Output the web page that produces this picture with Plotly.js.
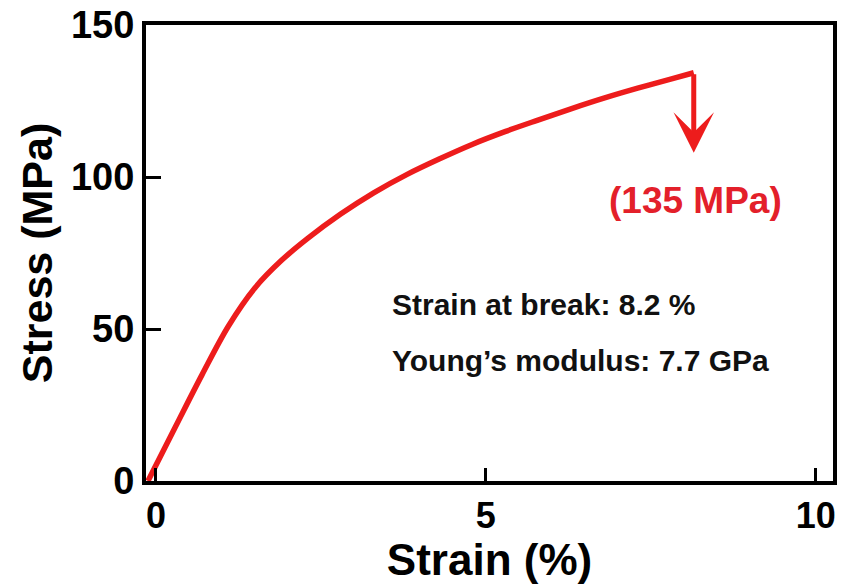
<!DOCTYPE html>
<html>
<head>
<meta charset="utf-8">
<script src="https://cdn.plot.ly/plotly-3.0.1.min.js"></script>
<style>html,body{margin:0;padding:0;background:#fff;} #chart{width:850px;height:584px;}</style>
</head>
<body>
<div id="chart"></div>
<script>
// Stress-strain curve
const strain = [-0.12, 0.3, 0.7, 1.1, 1.5, 1.9, 2.3, 2.8, 3.3, 3.8, 4.3, 4.8, 5.3, 5.8, 6.3, 6.8, 7.3, 7.8, 8.15];
const stress = [0, 18, 35, 51, 63.5, 72.5, 79.8, 87.8, 94.8, 100.8, 106, 110.8, 115, 118.8, 122.5, 126, 129.2, 132.2, 134.3];
const breakStrain = 8.15;
const breakStress = 134.3;
const arrowTipStress = 108;
const breakLabel = "(135 MPa)";
const infoLines = ["Strain at break: 8.2 %", "Young\u2019s modulus: 7.7 GPa"];
const xTicks = [0, 5, 10];
const yTicks = [0, 50, 100, 150];

const RED = "#ed1c1c";
const FONT = "Liberation Sans, Arial, Helvetica, sans-serif";

const trace = {
  x: strain, y: stress, type: "scatter", mode: "lines",
  line: {color: RED, width: 5.5, shape: "spline", smoothing: 1},
  hoverinfo: "skip", showlegend: false
};

const layout = {
  width: 850, height: 584,
  margin: {l: 146, r: 17, t: 25, b: 103},
  paper_bgcolor: "#fff", plot_bgcolor: "#fff",
  font: {family: FONT, color: "#000"},
  xaxis: {
    range: [-0.15, 10.26], tickvals: xTicks, ticktext: xTicks.map(String),
    ticks: "inside", ticklen: 13, tickwidth: 3, tickcolor: "#000",
    showline: true, linecolor: "#000", linewidth: 4, mirror: true,
    showgrid: false, zeroline: false,
    tickfont: {family: FONT, size: 36, weight: "bold", color: "#000"},
    title: {text: "Strain (%)", font: {family: FONT, size: 44, weight: "bold", color: "#000"}, standoff: 0}
  },
  yaxis: {
    range: [0, 150], tickvals: yTicks, ticktext: yTicks.map(String),
    ticks: "inside", ticklen: 15, tickwidth: 3, tickcolor: "#000",
    showline: true, linecolor: "#000", linewidth: 4, mirror: true,
    showgrid: false, zeroline: false,
    tickfont: {family: FONT, size: 38, weight: "bold", color: "#000"},
    title: {text: "Stress (MPa)", font: {family: FONT, size: 43, weight: "bold", color: "#000"}, standoff: 6}
  },
  annotations: [
    {x: breakStrain, y: arrowTipStress, ax: breakStrain, ay: breakStress, axref: "x", ayref: "y",
     xref: "x", yref: "y", text: "", showarrow: true, arrowhead: 3, arrowsize: 1.35, arrowwidth: 5, arrowcolor: RED, standoff: 0},
    {x: 8.17, y: 92.4, xref: "x", yref: "y", text: breakLabel, showarrow: false,
     font: {family: FONT, size: 37, weight: "bold", color: "#e3202a"}, xanchor: "center", yanchor: "middle"},
    {x: 3.55, y: 57.9, xref: "x", yref: "y", text: infoLines[0], showarrow: false,
     font: {family: FONT, size: 30, weight: "bold", color: "#111"}, xanchor: "left", yanchor: "middle"},
    {x: 3.55, y: 39.8, xref: "x", yref: "y", text: infoLines[1], showarrow: false,
     font: {family: FONT, size: 30, weight: "bold", color: "#111"}, xanchor: "left", yanchor: "middle"}
  ]
};

Plotly.newPlot("chart", [trace], layout, {displayModeBar: false, staticPlot: true});
</script>
</body>
</html>
